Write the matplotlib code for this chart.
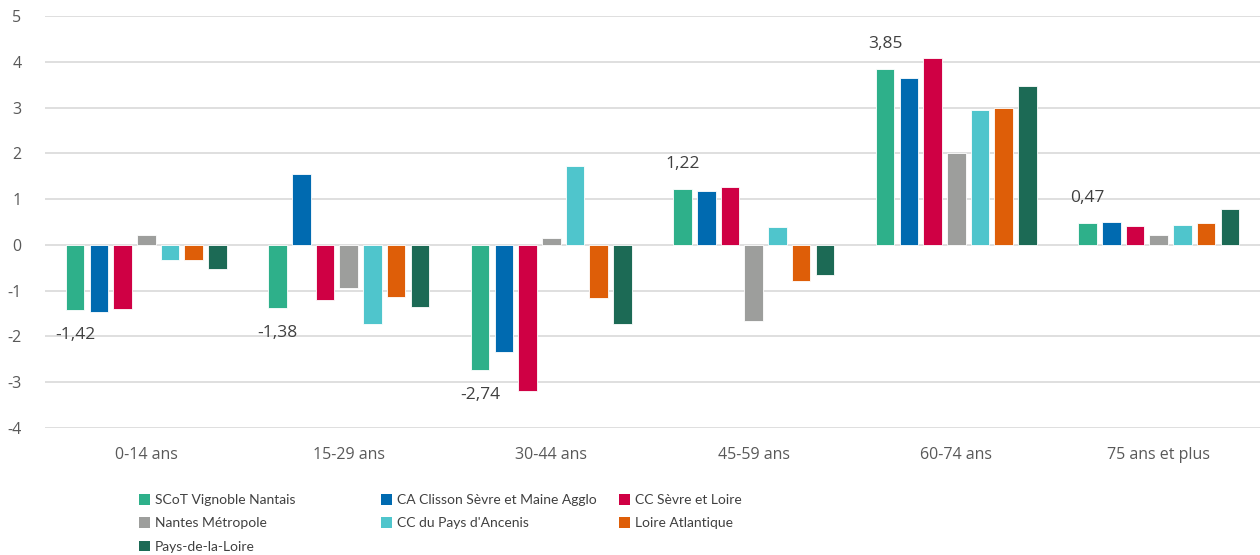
import matplotlib
matplotlib.use('Agg')
import matplotlib.pyplot as plt
import numpy as np
from matplotlib.patches import Patch

# data
categories = ['0-14 ans', '15-29 ans', '30-44 ans', '45-59 ans', '60-74 ans', '75 ans et plus']
series_names = ['SCoT Vignoble Nantais', 'CA Clisson Sèvre et Maine Agglo', 'CC Sèvre et Loire',
                'Nantes Métropole', "CC du Pays d'Ancenis", 'Loire Atlantique', 'Pays-de-la-Loire']
scot = [-1.42, -1.38, -2.74, 1.22, 3.85, 0.47]
clisson = [-1.46, 1.54, -2.35, 1.17, 3.64, 0.50]
sevre_loire = [-1.39, -1.20, -3.20, 1.27, 4.08, 0.42]
nantes = [0.21, -0.95, 0.15, -1.66, 2.00, 0.22]
ancenis = [-0.34, -1.73, 1.72, 0.39, 2.94, 0.44]
loire_atl = [-0.34, -1.14, -1.17, -0.79, 2.99, 0.47]
pdl = [-0.52, -1.36, -1.73, -0.66, 3.48, 0.78]
colors = ['#2EB08A', '#006AB0', '#CF0044', '#9D9E9C', '#4FC5CC', '#DE5E08', '#1C6A55']

all_series = [scot, clisson, sevre_loire, nantes, ancenis, loire_atl, pdl]

plt.rcParams['font.family'] = ['Open Sans', 'DejaVu Sans']
plt.rcParams['axes.unicode_minus'] = False

fig = plt.figure(figsize=(12.6, 5.55), dpi=100, facecolor='white')
ax = fig.add_axes([45 / 1260, 127 / 555, 1215 / 1260, 412 / 555])

x = np.arange(len(categories))
pitch = 0.117
width = 0.092
for i, (vals, col) in enumerate(zip(all_series, colors)):
    ax.bar(x + (i - 3) * pitch, vals, width=width, color=col, edgecolor='white',
           linewidth=0.6, zorder=3)

# data labels on the first series only
for xi, v in zip(x, scot):
    off = 25 if v > 0 else -25
    ax.annotate(f'{v:.2f}'.replace('.', ','), (xi - 3 * pitch, v), xytext=(0, off),
                textcoords='offset pixels', ha='center', va='center',
                fontsize=12.5, color='#404040')

ax.set_xlim(-0.5, len(categories) - 0.5)
ax.set_ylim(-4, 5)
ax.set_yticks(range(-4, 6))
ax.set_xticks(x)
ax.set_xticklabels(categories)
ax.grid(axis='y', color='#D9D9D9', linewidth=1.2, zorder=0)
ax.set_axisbelow(True)
for s in ax.spines.values():
    s.set_visible(False)
ax.tick_params(axis='both', length=0, colors='#595959', labelsize=11.5)
ax.tick_params(axis='y', pad=17)
ax.tick_params(axis='x', pad=14)

# legend in three columns placed like the original
col_x = [148 / 1260, 390 / 1260, 628 / 1260]
columns = [[0, 3, 6], [1, 4], [2, 5]]
for cx, idxs in zip(col_x, columns):
    handles = [Patch(facecolor=colors[k], label=series_names[k]) for k in idxs]
    fig.legend(handles=handles, loc='upper left', bbox_to_anchor=(cx - 0.007, 1 - 494 / 555),
               frameon=False, prop={'family': 'Lato', 'size': 10}, handlelength=0.8,
               handleheight=0.8, handletextpad=0.35, labelspacing=0.8, borderaxespad=0,
               borderpad=0, labelcolor='#404040')

fig.savefig('out.png', dpi=100, facecolor='white')
